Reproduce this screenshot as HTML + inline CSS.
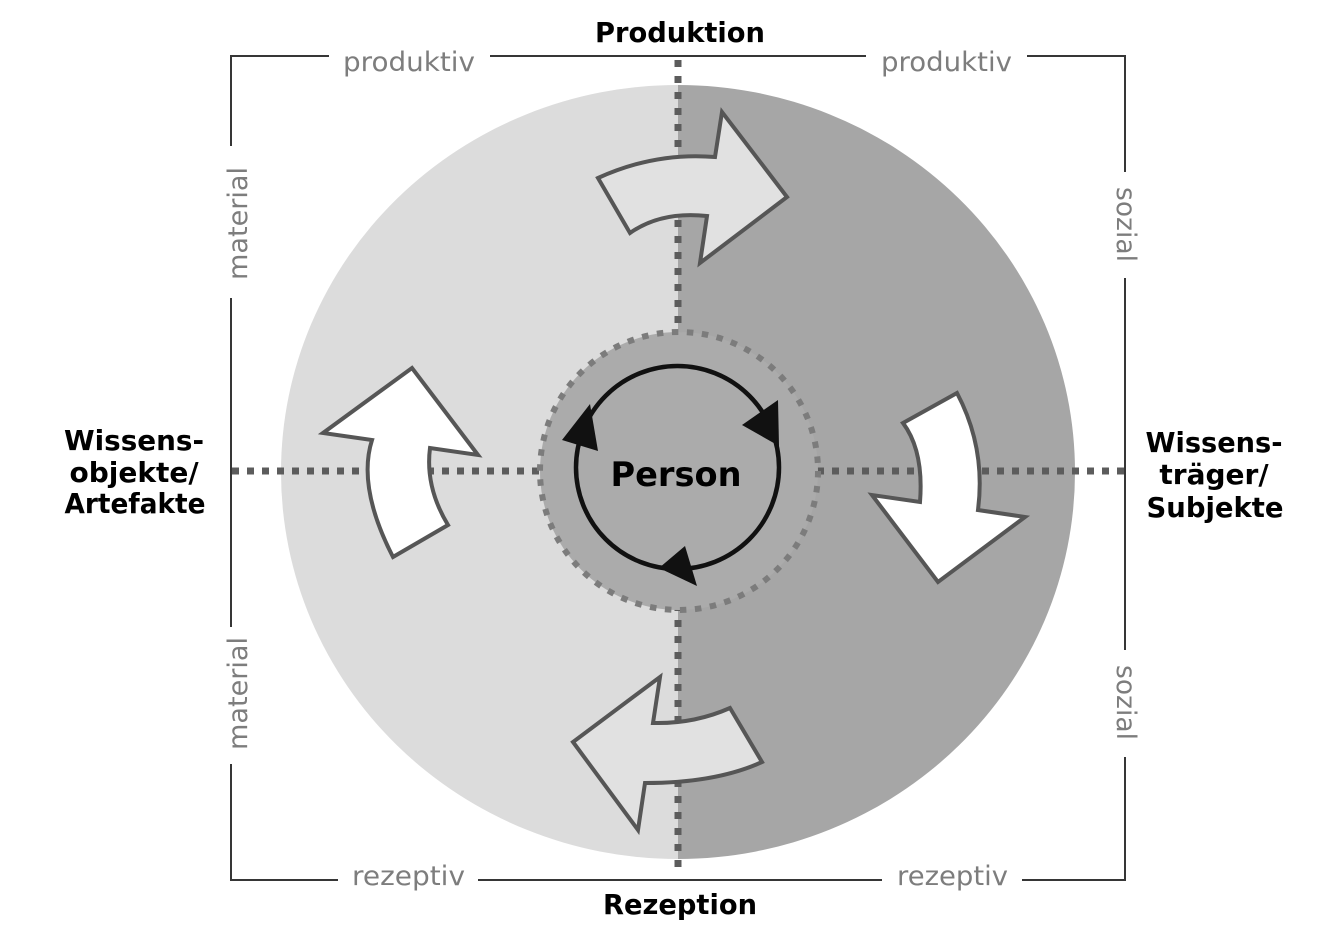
<!DOCTYPE html>
<html>
<head>
<meta charset="utf-8">
<style>
  html,body{margin:0;padding:0;background:#fff;}
  svg{display:block;}
  .lbl{font-family:"DejaVu Sans","Liberation Sans",sans-serif;font-size:27px;fill:#7d7d7d;}
  .b{font-family:"DejaVu Sans","Liberation Sans",sans-serif;font-weight:bold;font-size:28px;fill:#000;}
</style>
</head>
<body>
<svg width="1336" height="952" viewBox="0 0 1336 952" xmlns="http://www.w3.org/2000/svg">
  <rect x="0" y="0" width="1336" height="952" fill="#fff"/>

  <!-- outer circle halves -->
  <path d="M678,85 A397,387 0 0 0 678,859 Z" fill="#dcdcdc"/>
  <path d="M678,85 A397,387 0 0 1 678,859 Z" fill="#a6a6a6"/>

  <!-- frame lines -->
  <g stroke="#363636" stroke-width="2" fill="none">
    <line x1="231" y1="56" x2="329" y2="56"/>
    <line x1="490" y1="56" x2="866" y2="56"/>
    <line x1="1027" y1="56" x2="1126" y2="56"/>
    <line x1="231" y1="880" x2="338" y2="880"/>
    <line x1="478" y1="880" x2="882" y2="880"/>
    <line x1="1022" y1="880" x2="1126" y2="880"/>
    <line x1="231" y1="55" x2="231" y2="146"/>
    <line x1="231" y1="298" x2="231" y2="627"/>
    <line x1="231" y1="764" x2="231" y2="881"/>
    <line x1="1125" y1="55" x2="1125" y2="172"/>
    <line x1="1125" y1="278" x2="1125" y2="650"/>
    <line x1="1125" y1="757" x2="1125" y2="881"/>
  </g>

  <!-- dotted axes -->
  <g stroke="#5c5c5c" stroke-width="7" fill="none">
    <line x1="678" y1="60" x2="678" y2="874" stroke-dasharray="7 9"/>
    <line x1="232" y1="471" x2="1125" y2="471" stroke-dasharray="7 8"/>
  </g>

  <!-- inner circle -->
  <circle cx="679" cy="471" r="139" fill="#ababab" stroke="#7c7c7c" stroke-width="6" stroke-dasharray="6.5 8.56"/>

  <!-- big arrows -->
  <g stroke="#565656" stroke-width="4" stroke-linejoin="miter">
    <path d="M598,178 Q655,152 715,157 L722,112 L787,197 L700,263 L707,216 Q661,211 630,233 Z" fill="#e1e1e1"/>
    <path d="M903,423 L957,393 Q986,448 978,510 L1025,517 L938,582 L872,495 L920,502 Q924,451 903,423 Z" fill="#ffffff"/>
    <path d="M393,557 L448,525 Q425,487 430,448 L478,455 L412,368 L323,433 L372,440 Q357,487 393,557 Z" fill="#ffffff"/>
    <path d="M730,708 Q694,724 653,723 L660,677 L573,742 L638,830 L645,783 Q716,783 762,762 Z" fill="#e1e1e1"/>
  </g>

  <!-- cycle circle -->
  <circle cx="677.5" cy="467.5" r="101.5" fill="none" stroke="#111" stroke-width="4.5"/>
  <g fill="#111">
    <polygon points="742,425 778,400 779,446"/>
    <polygon points="562,440 598,451 590,404"/>
    <polygon points="685,546 697,586 659,568"/>
  </g>

  <!-- bold labels -->
  <text class="b" x="680" y="42" text-anchor="middle" textLength="170" lengthAdjust="spacingAndGlyphs">Produktion</text>
  <text class="b" x="680" y="914" text-anchor="middle" textLength="154" lengthAdjust="spacingAndGlyphs">Rezeption</text>
  <text class="b" x="676" y="486" text-anchor="middle" textLength="131" lengthAdjust="spacingAndGlyphs" style="font-size:34px">Person</text>

  <text class="b" x="134" y="450" text-anchor="middle" textLength="140" lengthAdjust="spacingAndGlyphs">Wissens-</text>
  <text class="b" x="134" y="482" text-anchor="middle">objekte/</text>
  <text class="b" x="135" y="513" text-anchor="middle" textLength="141" lengthAdjust="spacingAndGlyphs">Artefakte</text>

  <text class="b" x="1214" y="452" text-anchor="middle" textLength="137" lengthAdjust="spacingAndGlyphs">Wissens-</text>
  <text class="b" x="1214" y="484" text-anchor="middle">träger/</text>
  <text class="b" x="1215" y="517" text-anchor="middle" textLength="137" lengthAdjust="spacingAndGlyphs">Subjekte</text>

  <!-- gray labels -->
  <text class="lbl" x="343" y="71" textLength="132" lengthAdjust="spacingAndGlyphs">produktiv</text>
  <text class="lbl" x="881" y="71" textLength="131" lengthAdjust="spacingAndGlyphs">produktiv</text>
  <text class="lbl" x="352" y="885" textLength="113" lengthAdjust="spacingAndGlyphs">rezeptiv</text>
  <text class="lbl" x="897" y="885" textLength="111" lengthAdjust="spacingAndGlyphs">rezeptiv</text>

  <text class="lbl" transform="translate(247,280) rotate(-90)" x="0" y="0" textLength="113" lengthAdjust="spacingAndGlyphs">material</text>
  <text class="lbl" transform="translate(247,750) rotate(-90)" x="0" y="0" textLength="113" lengthAdjust="spacingAndGlyphs">material</text>
  <text class="lbl" transform="translate(1117,187) rotate(90)" x="0" y="0" textLength="75" lengthAdjust="spacingAndGlyphs">sozial</text>
  <text class="lbl" transform="translate(1117,665) rotate(90)" x="0" y="0" textLength="75" lengthAdjust="spacingAndGlyphs">sozial</text>
</svg>
</body>
</html>
